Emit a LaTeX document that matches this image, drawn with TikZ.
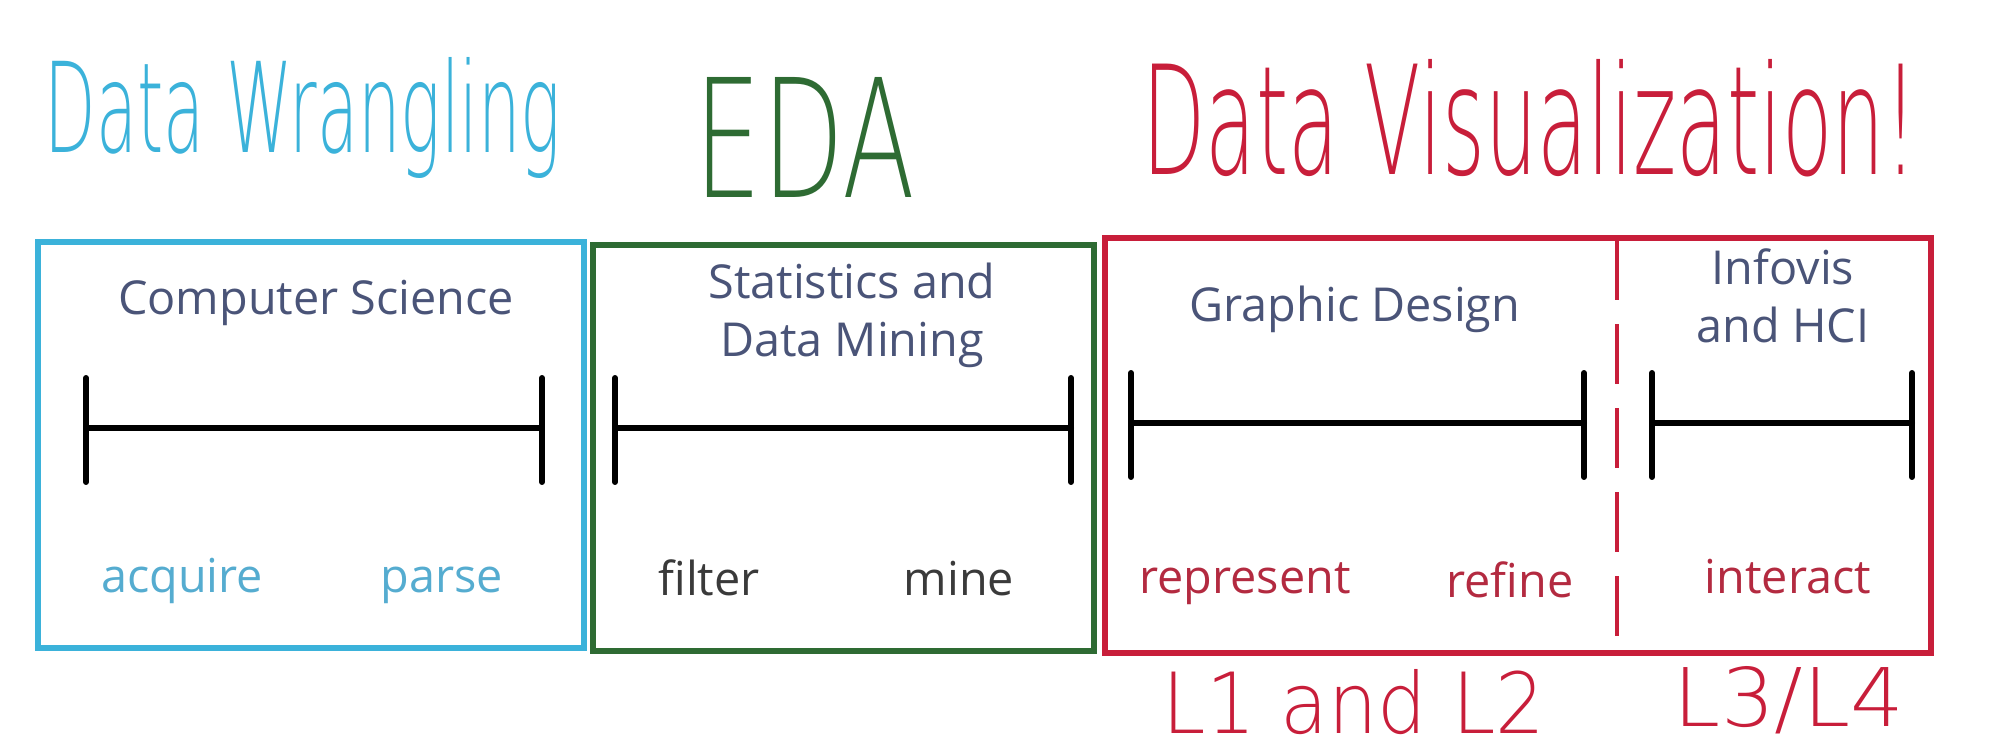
\documentclass[tikz,border=0pt]{standalone}
\usepackage{fontspec}
\setmainfont{Open Sans}
\newfontfamily\handfont{DejaVu Sans ExtraLight}
\definecolor{wrangle}{HTML}{3BB2DA}
\definecolor{eda}{HTML}{2E6B33}
\definecolor{vis}{HTML}{C81E3A}
\definecolor{head}{HTML}{4A5478}
\definecolor{wranglelbl}{HTML}{55ACD0}
\definecolor{edalbl}{HTML}{3A3A3A}
\definecolor{vislbl}{HTML}{B32A40}

\begin{document}
\begin{tikzpicture}[x=0.01cm,y=-0.01cm,font=\fontsize{13.3}{16.5}\selectfont,
  box/.style={line width=1.7pt},
  bar/.style={line width=1.7pt,line cap=round},
  head/.style={text=head,anchor=base,align=center},
  lbl/.style={anchor=base},
  hand/.style={anchor=base,inner sep=0pt}]
  \useasboundingbox (0,0) rectangle (2000,749);
  % handwritten titles
  \node[hand,text=wrangle] (wrangling) at (303,153) {\resizebox{5.16cm}{0.95cm}{\handfont Data Wrangling}};
  \node[hand,text=eda] (edatitle) at (805,198) {\resizebox{2.2cm}{1.2cm}{\handfont EDA}};
  \node[hand,text=vis] (vistitle) at (1530,175) {\resizebox{7.75cm}{1.15cm}{\handfont Data Visualization!}};
  \node[hand,text=vis] (lecone) at (1354,733) {\resizebox{3.82cm}{0.64cm}{\handfont L1 and L2}};
  \node[hand,text=vis] (lecthree) at (1789,726) {\resizebox{2.3cm}{0.6cm}{\handfont L3/L4}};
  % boxes
  \draw[box,wrangle] (38,242) rectangle (584,648);
  \draw[box,eda] (593,245) rectangle (1094,651);
  \draw[box,vis] (1105,238) rectangle (1931,653);
  \draw[line width=1.4pt,vis,dash pattern=on 6mm off 2.4mm] (1617,240) -- (1617,651);
  % time lines
  \foreach \a/\b/\y in {86/542/428,615/1071/428,1131/1584/423,1652/1912/423} {
    \draw[bar] (\a,\y) -- (\b,\y);
    \draw[bar] (\a,\y-50) -- (\a,\y+54);
    \draw[bar] (\b,\y-50) -- (\b,\y+54);
  }
  % fields
  \node[head] (cs) at (316,315) {Computer Science};
  \node[head] (stats) at (852,357) {Statistics and\\Data Mining};
  \node[head] (design) at (1355,322) {Graphic Design};
  \node[head] (infovis) at (1783,343) {Infovis\\and HCI};
  % steps
  \node[lbl,text=wranglelbl] (acquire) at (182,592) {acquire};
  \node[lbl,text=wranglelbl] (parse) at (442,592) {parse};
  \node[lbl,text=edalbl] (filter) at (709,595) {filter};
  \node[lbl,text=edalbl] (mine) at (959,595) {mine};
  \node[lbl,text=vislbl] (represent) at (1245,593) {represent};
  \node[lbl,text=vislbl] (refine) at (1510,597) {refine};
  \node[lbl,text=vislbl] (interact) at (1788,593) {interact};
\end{tikzpicture}
\end{document}
